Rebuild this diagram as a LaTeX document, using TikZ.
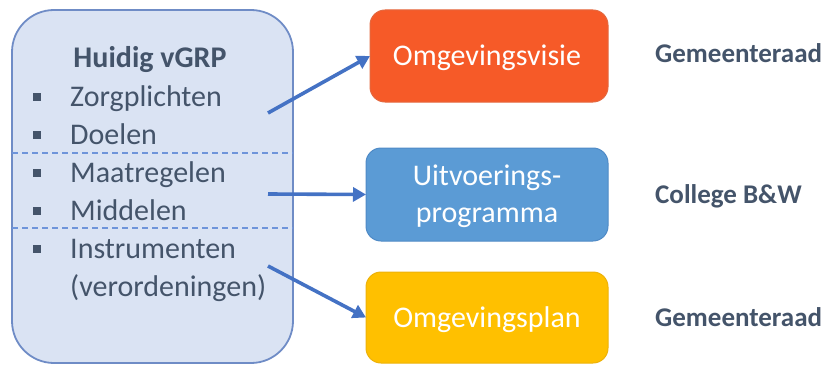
\documentclass[tikz,border=0pt]{standalone}
\usepackage{fontspec}
\setmainfont{Carlito}
\usetikzlibrary{arrows.meta}
\definecolor{txt}{HTML}{44546A}
\definecolor{bigfill}{HTML}{DAE3F3}
\definecolor{bigdraw}{HTML}{6F8CC6}
\definecolor{dashc}{HTML}{6E94DA}
\definecolor{arr}{HTML}{4472C4}
\definecolor{redf}{HTML}{F65A28}
\definecolor{redd}{HTML}{E4683F}
\definecolor{bluef}{HTML}{5B9BD5}
\definecolor{blued}{HTML}{4F8AC6}
\definecolor{yelf}{HTML}{FFC000}
\definecolor{yeld}{HTML}{EDB20A}
\tikzset{
  outbox/.style={rounded corners=15pt, line width=1pt},
  boxtext/.style={text=white, font=\fontsize{30}{36}\selectfont, inner sep=0pt},
  itemtext/.style={text=txt, font=\fontsize{30}{36}\selectfont, anchor=base west, inner sep=0pt},
  bossy/.style={text=txt, font=\fontsize{27}{32}\selectfont\bfseries, anchor=base west, inner sep=0pt},
  bulletsq/.style={fill=txt, draw=none, minimum size=8pt, inner sep=0pt},
  conn/.style={draw=arr, line width=3.6pt, -{Triangle[length=13pt,width=14pt]}},
  sepline/.style={draw=dashc, line width=1.5pt, dash pattern=on 6pt off 4pt}
}
\begin{document}
\begin{tikzpicture}[x=1pt,y=1pt]
\useasboundingbox (0,0) rectangle (826,365);
% big box
\draw[fill=bigfill, draw=bigdraw, line width=1.8pt, rounded corners=42pt] (12,2) rectangle (293,355);
\draw[sepline] (12,212) -- (293,212);
\draw[sepline] (12,137) -- (293,137);
% title
\node[text=txt, font=\fontsize{30}{36}\selectfont\bfseries, anchor=base, inner sep=0pt] (title) at (150,298) {Huidig vGRP};
% items
\node[itemtext] (i1) at (70,259) {Zorgplichten};
\node[itemtext] (i2) at (70,221) {Doelen};
\node[itemtext] (i3) at (70,183) {Maatregelen};
\node[itemtext] (i4) at (70,145) {Middelen};
\node[itemtext] (i5) at (70,107) {Instrumenten};
\node[itemtext] (i6) at (70,69) {(verordeningen)};
\node[bulletsq] (b1) at (37,268) {};
\node[bulletsq] (b2) at (37,230) {};
\node[bulletsq] (b3) at (37,192) {};
\node[bulletsq] (b4) at (37,154) {};
\node[bulletsq] (b5) at (37,116) {};
% right boxes
\draw[outbox, fill=redf, draw=redd] (370,263) rectangle (608,355);
\coordinate (ovw) at (370,309);
\draw[outbox, fill=bluef, draw=blued] (366,124) rectangle (608,217);
\coordinate (upw) at (366,170.5);
\draw[outbox, fill=yelf, draw=yeld] (366,2) rectangle (608,93);
\coordinate (opw) at (366,47.5);
\node[boxtext, anchor=base] (ov) at (487,300) {Omgevingsvisie};
\node[boxtext, anchor=base] (up1) at (487,180) {Uitvoerings-};
\node[boxtext, anchor=base] (up2) at (487,143) {programma};
\node[boxtext, anchor=base] (op) at (487,38) {Omgevingsplan};
% labels
\node[bossy] (g1) at (655,302) {Gemeenteraad};
\node[bossy] (cb) at (655,162) {College B\&W};
\node[bossy] (g2) at (655,39) {Gemeenteraad};
% connectors
\coordinate (s1) at (268,252);
\coordinate (s2) at (268,171);
\coordinate (s3) at (268,99);
\draw[conn] (s1) -- (ovw);
\draw[conn] (s2) -- (upw);
\draw[conn] (s3) -- (opw);
\end{tikzpicture}
\end{document}
